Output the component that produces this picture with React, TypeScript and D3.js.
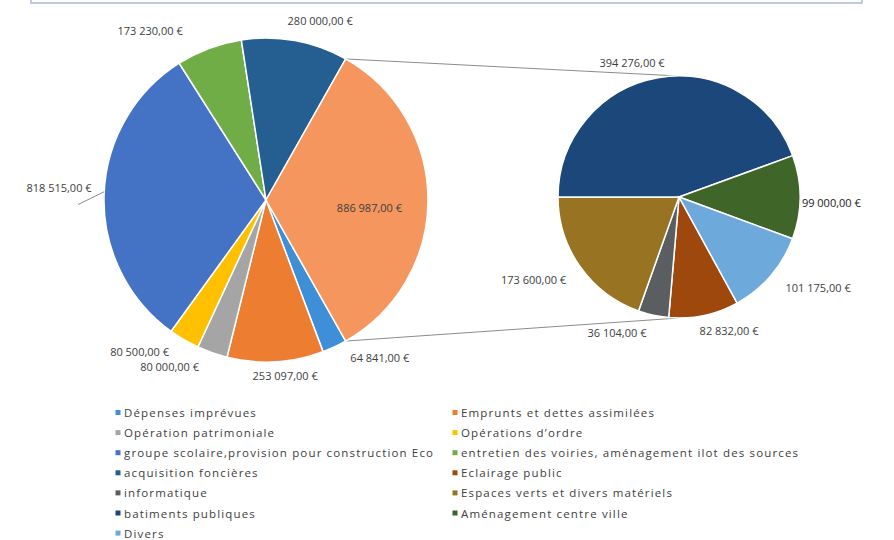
import React from "react";
import * as d3 from "d3";

const mainLabels = [
  "Dépenses imprévues",
  "Emprunts et dettes assimilées",
  "Opération patrimoniale",
  "Opérations d’ordre",
  "groupe scolaire,provision pour construction Eco",
  "entretien des voiries, aménagement ilot des sources",
  "acquisition foncières",
];
const mainValues = [64841, 253097, 80000, 80500, 818515, 173230, 280000];
const mainColors = ["#3E8FD8", "#ED7D31", "#A5A5A5", "#FFC000", "#4472C4", "#70AD47", "#255E91"];

const secondLabels = [
  "Eclairage public",
  "informatique",
  "Espaces verts et divers matériels",
  "batiments publiques",
  "Aménagement centre ville",
  "Divers",
];
const secondValues = [82832, 36104, 173600, 394276, 99000, 101175];
const secondColors = ["#9E480E", "#5A5E60", "#987321", "#1B477A", "#3F6529", "#6EA9DC"];
const otherColor = "#F4965E";

// label layout: [angle offset from slice middle (deg), radius factor]
const mainLabelLayout: [number, number][] = [
  [-10.8, 1.2], [-2.9, 1.09], [10.6, 1.19], [9.4, 1.22], [1.7, 1.28], [-13.7, 1.27], [6.4, 1.16], [3.9, 0.64],
];
const secondLabelLayout: [number, number][] = [
  [-8.6, 1.18], [12.4, 1.23], [5.8, 1.38], [-9.2, 1.18], [2.1, 1.26], [-7.8, 1.37],
];

const W = 894;
const H = 540;
const c1 = { x: 266, y: 200, r: 162 };
const c2 = { x: 679, y: 197, r: 121 };

const fr = d3.formatLocale({ decimal: ",", thousands: "\u00a0", grouping: [3], currency: ["", " €"] });
const fmt = (v: number) => fr.format(",.2f")(v) + " €";

const FONT = "'Open Sans', 'Noto Sans', sans-serif";
const TEXT = "#404040";

function polar(cx: number, cy: number, angle: number, rad: number): [number, number] {
  return [cx + rad * Math.sin(angle), cy - rad * Math.cos(angle)];
}

export default function App() {
  const otherSum = d3.sum(secondValues);
  const mainAll = [...mainValues, otherSum];
  const mainTotal = d3.sum(mainAll);
  const otherAngle = (otherSum / mainTotal) * 2 * Math.PI;
  const start1 = Math.PI / 2 + otherAngle / 2;
  const arcs1 = d3.pie<number>().sort(null).startAngle(start1).endAngle(start1 + 2 * Math.PI)(mainAll);

  const firstThree = d3.sum(secondValues.slice(0, 3));
  const start2 = (3 * Math.PI) / 2 - (firstThree / otherSum) * 2 * Math.PI;
  const arcs2 = d3.pie<number>().sort(null).startAngle(start2).endAngle(start2 + 2 * Math.PI)(secondValues);

  const arc1 = d3.arc<any>().innerRadius(0).outerRadius(c1.r);
  const arc2 = d3.arc<any>().innerRadius(0).outerRadius(c2.r);

  const otherArc = arcs1[arcs1.length - 1];
  const topA = polar(c1.x, c1.y, otherArc.startAngle, c1.r);
  const botA = polar(c1.x, c1.y, otherArc.endAngle, c1.r);
  const topB: [number, number] = [c2.x, c2.y - c2.r];
  const botB: [number, number] = [c2.x, c2.y + c2.r];

  const deg = Math.PI / 180;
  const mainColorsAll = [...mainColors, otherColor];

  const legendItems = [
    ...mainLabels.map((l, i) => ({ label: l, color: mainColors[i] })),
    ...secondLabels.map((l, i) => ({ label: l, color: secondColors[i] })),
  ];
  const legendX = [118, 455];
  const legendY0 = 412.5;
  const legendDy = 20.1;

  // leader line for the groupe scolaire label
  const gArc = arcs1[4];
  const gMid = (gArc.startAngle + gArc.endAngle) / 2;
  const leadStart = polar(c1.x, c1.y, gMid + 1.2 * deg, c1.r);
  const leadEnd = polar(c1.x, c1.y, gMid - 3.1 * deg, c1.r * 1.16);

  return (
    <div style={{ position: "fixed", left: 0, top: 0 }}>
      <svg width={W} height={H} style={{ display: "block", background: "#fff" }}>
        <rect x={31} y={-10} width={831} height={13} fill="none" stroke="#A9BCD9" strokeWidth={1.5} />

        {/* connector lines */}
        <line x1={topA[0]} y1={topA[1]} x2={topB[0]} y2={topB[1]} stroke="#8C8C8C" strokeWidth={1} />
        <line x1={botA[0]} y1={botA[1]} x2={botB[0]} y2={botB[1]} stroke="#8C8C8C" strokeWidth={1} />

        <g transform={`translate(${c1.x},${c1.y})`}>
          {arcs1.map((a, i) => (
            <path key={i} d={arc1(a) as string} fill={mainColorsAll[i]} stroke="#fff" strokeWidth={1.5} />
          ))}
        </g>
        <g transform={`translate(${c2.x},${c2.y})`}>
          {arcs2.map((a, i) => (
            <path key={i} d={arc2(a) as string} fill={secondColors[i]} stroke="#fff" strokeWidth={1.5} />
          ))}
        </g>

        <line x1={leadStart[0]} y1={leadStart[1]} x2={leadEnd[0]} y2={leadEnd[1]} stroke="#8C8C8C" strokeWidth={1} />

        {arcs1.map((a, i) => {
          const mid = (a.startAngle + a.endAngle) / 2;
          const [dA, k] = mainLabelLayout[i];
          const [x, y] = polar(c1.x, c1.y, mid + dA * deg, c1.r * k);
          return (
            <text key={i} x={x} y={y} textAnchor="middle" dominantBaseline="central" fontFamily={FONT} fontSize={11} fill={TEXT}>
              {fmt(a.data)}
            </text>
          );
        })}
        {arcs2.map((a, i) => {
          const mid = (a.startAngle + a.endAngle) / 2;
          const [dA, k] = secondLabelLayout[i];
          const [x, y] = polar(c2.x, c2.y, mid + dA * deg, c2.r * k);
          return (
            <text key={i} x={x} y={y} textAnchor="middle" dominantBaseline="central" fontFamily={FONT} fontSize={11} fill={i === 4 ? "#1a1a1a" : TEXT}>
              {fmt(a.data)}
            </text>
          );
        })}

        {legendItems.map((it, i) => {
          const col = i % 2;
          const row = Math.floor(i / 2);
          const x = legendX[col];
          const y = legendY0 + row * legendDy;
          return (
            <g key={i}>
              <rect x={x - 2.5} y={y - 2.5} width={5} height={5} fill={it.color} />
              <text x={x + 6} y={y} dominantBaseline="central" fontFamily={FONT} fontSize={11.5} fill={TEXT} letterSpacing={1.15}>
                {it.label}
              </text>
            </g>
          );
        })}
      </svg>
    </div>
  );
}
